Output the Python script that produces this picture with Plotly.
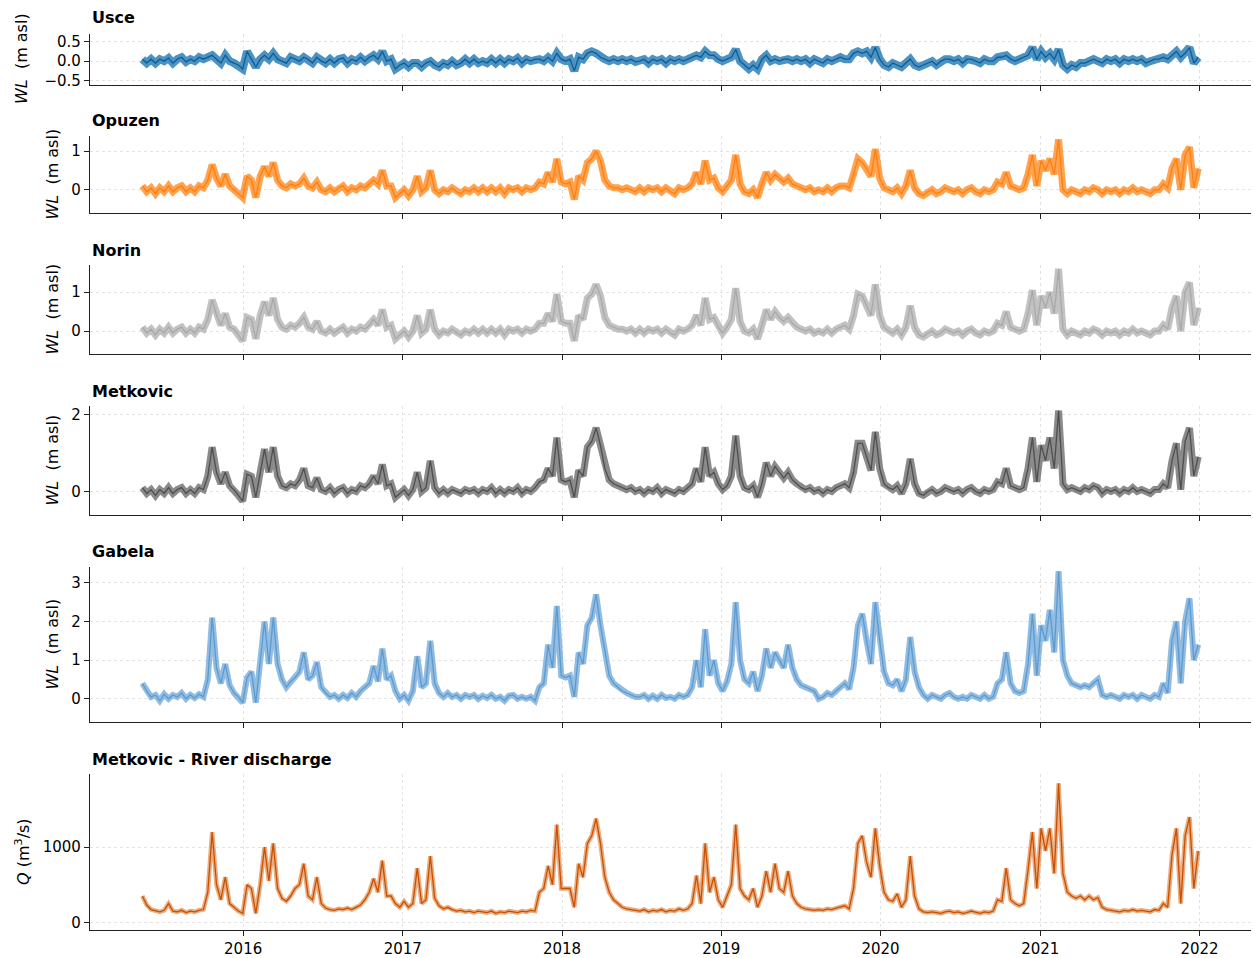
import pandas as pd
import plotly.graph_objects as go

# ---------------- data (10-day samples) ----------------
START = "2015-05-15"
YEARS = [2016, 2017, 2018, 2019, 2020, 2021, 2022]

usce = [
    0.05, -0.05, 0.05, -0.05, 0.05, 0.00, 0.08, -0.05, 0.05, 0.10,
    -0.02, 0.05, 0.00, 0.10, 0.05, 0.10, 0.15, 0.05, -0.05, 0.15,
    0.00, -0.05, -0.10, -0.20, 0.25, 0.05, -0.15, 0.05, 0.15, 0.05,
    0.20, 0.05, 0.00, -0.05, 0.10, 0.05, 0.00, 0.10, 0.05, -0.05,
    0.10, 0.00, -0.05, 0.05, -0.05, 0.05, 0.08, -0.05, 0.05, 0.00,
    0.10, 0.00, 0.10, 0.15, 0.05, 0.25, 0.00, 0.05, -0.20, -0.10,
    -0.05, -0.15, -0.05, -0.05, -0.15, -0.05, 0.00, -0.10, -0.15, -0.05,
    -0.10, 0.00, -0.10, -0.05, 0.05, -0.05, 0.05, -0.05, 0.00, -0.05,
    0.05, -0.05, 0.05, -0.05, 0.05, 0.00, 0.08, -0.05, 0.05, 0.00,
    0.05, 0.05, 0.00, 0.10, 0.00, 0.20, 0.05, 0.00, 0.05, -0.25,
    0.10, 0.05, 0.20, 0.25, 0.20, 0.10, 0.05, 0.00, 0.05, 0.00,
    0.05, 0.00, 0.05, -0.02, 0.00, 0.05, -0.05, 0.05, 0.00, 0.05,
    -0.05, 0.05, 0.00, 0.05, 0.00, 0.05, 0.10, 0.15, 0.10, 0.25,
    0.15, 0.15, 0.05, 0.00, 0.05, 0.10, 0.30, 0.00, -0.10, -0.20,
    -0.10, -0.20, 0.05, 0.15, 0.00, 0.05, 0.00, 0.05, 0.05, 0.00,
    0.05, 0.00, 0.05, -0.05, 0.05, 0.00, -0.05, 0.05, 0.00, 0.05,
    0.10, 0.05, 0.05, 0.20, 0.25, 0.20, 0.25, 0.10, 0.35, 0.05,
    -0.10, -0.15, -0.05, -0.10, -0.15, -0.05, 0.05, -0.10, -0.15, -0.10,
    -0.05, 0.00, -0.10, 0.00, 0.05, 0.05, 0.00, 0.05, -0.05, 0.05,
    0.05, 0.00, -0.05, 0.05, 0.00, 0.00, 0.10, 0.10, 0.15, 0.05,
    0.00, 0.05, 0.10, 0.15, 0.35, 0.05, 0.25, 0.10, 0.20, 0.05,
    0.30, -0.10, -0.20, -0.10, -0.15, -0.05, -0.05, 0.00, 0.05, 0.00,
    -0.05, 0.05, 0.00, 0.05, -0.05, 0.05, 0.00, 0.05, 0.00, 0.05,
    -0.05, 0.00, 0.05, 0.05, 0.10, 0.05, 0.15, 0.25, 0.10, 0.20,
    0.35, -0.05, 0.10,
]

opuzen = [
    0.10, -0.05, 0.05, -0.10, 0.05, -0.05, 0.10, -0.05, 0.05, 0.10,
    -0.05, 0.05, -0.05, 0.10, 0.05, 0.25, 0.65, 0.30, 0.10, 0.40,
    0.10, 0.00, -0.10, -0.20, 0.35, 0.25, -0.20, 0.35, 0.60, 0.35,
    0.70, 0.25, 0.10, 0.05, 0.15, 0.10, 0.15, 0.30, 0.10, 0.05,
    0.20, 0.00, -0.05, 0.05, -0.05, 0.05, 0.10, -0.05, 0.05, 0.00,
    0.10, 0.05, 0.15, 0.25, 0.15, 0.50, 0.10, 0.10, -0.20, -0.10,
    0.00, -0.15, 0.00, 0.35, -0.05, 0.05, 0.50, 0.00, -0.10, 0.00,
    -0.05, 0.05, -0.05, -0.10, 0.00, -0.05, 0.05, -0.05, 0.05, -0.05,
    0.05, -0.05, 0.05, -0.10, 0.05, 0.00, 0.05, -0.05, 0.05, 0.00,
    0.05, 0.20, 0.15, 0.45, 0.20, 0.80, 0.20, 0.15, 0.20, -0.25,
    0.35, 0.25, 0.70, 0.80, 1.00, 0.75, 0.25, 0.10, 0.05, 0.05,
    0.00, 0.05, 0.00, -0.05, 0.05, -0.05, 0.05, 0.00, 0.05, -0.05,
    0.05, -0.05, -0.10, 0.05, 0.00, 0.05, 0.15, 0.45, 0.15, 0.75,
    0.25, 0.30, 0.05, -0.05, 0.10, 0.25, 0.90, 0.15, -0.05, -0.10,
    0.00, -0.20, 0.15, 0.45, 0.25, 0.40, 0.30, 0.20, 0.30, 0.15,
    0.10, 0.05, 0.00, 0.05, -0.05, 0.00, -0.05, 0.05, -0.05, 0.05,
    0.10, 0.10, 0.05, 0.40, 0.80, 0.70, 0.55, 0.35, 1.05, 0.30,
    0.05, 0.00, -0.05, 0.05, -0.10, 0.10, 0.50, 0.05, -0.10, -0.15,
    -0.05, 0.00, -0.10, -0.05, 0.05, 0.00, -0.05, 0.00, -0.10, 0.00,
    0.05, -0.05, -0.10, 0.00, -0.05, 0.00, 0.20, 0.15, 0.45, 0.10,
    0.05, 0.00, 0.05, 0.40, 0.90, 0.10, 0.75, 0.50, 0.80, 0.40,
    1.30, 0.00, -0.10, 0.00, -0.05, -0.10, 0.00, -0.05, 0.05, 0.00,
    -0.10, 0.00, -0.05, 0.00, -0.10, 0.00, -0.05, 0.05, -0.05, 0.00,
    -0.05, -0.10, 0.00, 0.00, 0.15, 0.05, 0.55, 0.80, 0.00, 0.90,
    1.10, 0.05, 0.55,
]

norin = [
    0.10, -0.05, 0.05, -0.10, 0.05, -0.05, 0.10, -0.05, 0.05, 0.10,
    -0.05, 0.05, -0.05, 0.10, 0.05, 0.30, 0.80, 0.40, 0.15, 0.45,
    0.10, 0.05, -0.10, -0.25, 0.35, 0.30, -0.20, 0.40, 0.75, 0.40,
    0.85, 0.30, 0.10, 0.05, 0.15, 0.10, 0.20, 0.35, 0.10, 0.05,
    0.25, 0.00, -0.05, 0.05, -0.05, 0.05, 0.10, -0.05, 0.05, 0.00,
    0.10, 0.05, 0.15, 0.30, 0.15, 0.55, 0.10, 0.15, -0.20, -0.10,
    0.00, -0.15, 0.00, 0.40, -0.05, 0.05, 0.55, 0.05, -0.10, 0.00,
    -0.05, 0.05, -0.05, -0.10, 0.00, -0.05, 0.05, -0.05, 0.05, -0.05,
    0.05, -0.05, 0.05, -0.10, 0.05, 0.00, 0.05, -0.05, 0.05, 0.00,
    0.05, 0.20, 0.20, 0.45, 0.25, 0.95, 0.25, 0.20, 0.20, -0.25,
    0.40, 0.30, 0.85, 0.95, 1.20, 0.90, 0.35, 0.15, 0.10, 0.05,
    0.05, 0.00, 0.05, -0.05, 0.05, -0.05, 0.05, 0.00, 0.05, -0.05,
    0.05, -0.05, -0.10, 0.05, 0.00, 0.05, 0.15, 0.40, 0.15, 0.85,
    0.30, 0.35, 0.10, -0.05, 0.10, 0.30, 1.10, 0.25, 0.00, -0.05,
    0.05, -0.20, 0.15, 0.55, 0.30, 0.50, 0.35, 0.25, 0.35, 0.20,
    0.10, 0.05, 0.00, 0.05, -0.05, 0.00, -0.05, 0.05, -0.05, 0.05,
    0.10, 0.15, 0.05, 0.40, 0.95, 0.90, 0.65, 0.40, 1.20, 0.40,
    0.10, 0.00, -0.05, 0.05, -0.10, 0.10, 0.65, 0.10, -0.10, -0.15,
    -0.05, 0.00, -0.10, -0.05, 0.05, 0.00, -0.05, 0.00, -0.10, 0.00,
    0.05, -0.05, -0.10, 0.00, -0.05, 0.00, 0.20, 0.15, 0.50, 0.10,
    0.05, 0.00, 0.05, 0.45, 1.05, 0.15, 0.90, 0.60, 1.00, 0.45,
    1.60, 0.05, -0.10, 0.00, -0.05, -0.10, 0.00, -0.05, 0.05, 0.00,
    -0.10, 0.00, -0.05, 0.00, -0.10, 0.00, -0.05, 0.05, -0.05, 0.00,
    -0.05, -0.10, 0.00, 0.00, 0.15, 0.05, 0.60, 0.90, 0.00, 1.00,
    1.25, 0.15, 0.60,
]

metkovic = [
    0.10, -0.05, 0.05, -0.10, 0.05, -0.05, 0.10, -0.05, 0.05, 0.10,
    -0.05, 0.05, -0.05, 0.10, 0.05, 0.40, 1.15, 0.50, 0.20, 0.50,
    0.15, 0.05, -0.10, -0.25, 0.45, 0.40, -0.15, 0.50, 1.10, 0.50,
    1.15, 0.40, 0.15, 0.10, 0.20, 0.15, 0.30, 0.60, 0.15, 0.10,
    0.35, 0.05, 0.00, 0.10, -0.05, 0.05, 0.10, -0.05, 0.05, 0.00,
    0.15, 0.10, 0.20, 0.40, 0.20, 0.70, 0.15, 0.20, -0.15, -0.05,
    0.05, -0.10, 0.05, 0.50, 0.00, 0.10, 0.80, 0.10, -0.05, 0.05,
    -0.05, 0.05, 0.00, -0.05, 0.05, 0.00, 0.05, -0.05, 0.05, 0.00,
    0.10, -0.05, 0.05, -0.05, 0.05, 0.00, 0.10, -0.05, 0.05, 0.00,
    0.10, 0.25, 0.30, 0.60, 0.40, 1.40, 0.30, 0.25, 0.30, -0.15,
    0.55, 0.40, 1.15, 1.30, 1.65, 1.20, 0.60, 0.30, 0.20, 0.15,
    0.10, 0.05, 0.10, 0.00, 0.05, -0.05, 0.05, 0.00, 0.10, -0.05,
    0.05, 0.00, -0.05, 0.05, 0.00, 0.10, 0.20, 0.60, 0.25, 1.15,
    0.40, 0.50, 0.20, 0.05, 0.15, 0.40, 1.45, 0.40, 0.10, 0.05,
    0.15, -0.15, 0.20, 0.75, 0.40, 0.65, 0.50, 0.35, 0.50, 0.30,
    0.20, 0.10, 0.05, 0.10, 0.00, 0.05, -0.05, 0.05, 0.00, 0.10,
    0.15, 0.20, 0.10, 0.50, 1.25, 1.25, 0.90, 0.55, 1.55, 0.60,
    0.20, 0.10, 0.05, 0.15, -0.05, 0.20, 0.85, 0.20, -0.05, -0.10,
    0.00, 0.05, -0.05, 0.00, 0.10, 0.05, 0.00, 0.05, -0.05, 0.05,
    0.10, 0.00, -0.05, 0.05, 0.00, 0.05, 0.25, 0.20, 0.60, 0.15,
    0.10, 0.05, 0.10, 0.60, 1.40, 0.25, 1.20, 0.80, 1.40, 0.60,
    2.10, 0.20, 0.05, 0.10, 0.05, 0.00, 0.10, 0.05, 0.15, 0.10,
    -0.05, 0.05, 0.00, 0.05, -0.05, 0.05, 0.00, 0.10, 0.00, 0.05,
    0.00, -0.05, 0.05, 0.05, 0.20, 0.10, 0.80, 1.25, 0.05, 1.30,
    1.65, 0.40, 0.90,
]

gabela = [
    0.40, 0.20, 0.05, 0.10, -0.05, 0.12, 0.00, 0.10, 0.05, 0.15,
    0.00, 0.10, 0.02, 0.12, 0.05, 0.50, 2.10, 0.80, 0.40, 0.90,
    0.35, 0.15, 0.05, -0.10, 0.55, 0.70, -0.10, 0.90, 2.00, 0.90,
    2.10, 0.90, 0.50, 0.30, 0.45, 0.55, 0.70, 1.20, 0.50, 0.60,
    0.95, 0.30, 0.15, 0.05, 0.10, 0.00, 0.10, 0.02, 0.15, 0.05,
    0.20, 0.30, 0.40, 0.85, 0.45, 1.30, 0.50, 0.60, 0.20, 0.00,
    0.10, -0.05, 0.20, 1.10, 0.30, 0.40, 1.50, 0.40, 0.15, 0.05,
    0.15, 0.05, 0.10, 0.00, 0.10, 0.05, 0.10, 0.00, 0.08, 0.02,
    0.10, 0.00, 0.05, -0.05, 0.08, 0.10, 0.00, 0.05, 0.00, 0.05,
    -0.05, 0.30, 0.40, 1.40, 0.80, 2.40, 0.60, 0.55, 0.60, 0.05,
    1.20, 0.90, 1.90, 2.10, 2.70, 1.90, 1.20, 0.60, 0.40, 0.30,
    0.20, 0.15, 0.10, 0.05, 0.05, 0.10, 0.00, 0.08, 0.00, 0.10,
    0.02, 0.05, 0.00, 0.10, 0.05, 0.10, 0.30, 1.00, 0.30, 1.80,
    0.60, 1.00, 0.40, 0.20, 0.45, 0.90, 2.50, 1.00, 0.50, 0.40,
    0.70, 0.20, 0.60, 1.30, 0.80, 1.20, 1.00, 0.80, 1.40, 0.80,
    0.50, 0.35, 0.30, 0.25, 0.20, 0.00, 0.05, 0.15, 0.10, 0.20,
    0.30, 0.40, 0.25, 0.80, 1.90, 2.20, 1.50, 0.90, 2.50, 1.50,
    0.70, 0.40, 0.35, 0.50, 0.20, 0.50, 1.60, 0.70, 0.30, 0.10,
    0.00, 0.10, 0.05, 0.00, 0.10, 0.15, 0.05, 0.00, 0.05, 0.00,
    0.10, 0.05, 0.00, 0.10, 0.00, 0.05, 0.40, 0.50, 1.20, 0.40,
    0.20, 0.15, 0.20, 0.90, 2.20, 0.60, 1.90, 1.50, 2.30, 1.20,
    3.30, 1.00, 0.60, 0.40, 0.35, 0.30, 0.35, 0.30, 0.40, 0.50,
    0.10, 0.05, 0.10, 0.05, 0.00, 0.10, 0.05, 0.10, 0.00, 0.10,
    0.05, 0.00, 0.10, 0.05, 0.40, 0.15, 1.50, 2.00, 0.40, 2.00,
    2.60, 1.00, 1.40,
]

discharge = [
    350, 230, 170, 150, 140, 160, 250, 150, 140, 160,
    130, 150, 140, 160, 170, 400, 1200, 500, 300, 600,
    250, 200, 150, 120, 500, 450, 120, 500, 1000, 550,
    1050, 450, 320, 280, 350, 450, 500, 780, 350, 300,
    600, 250, 190, 170, 160, 180, 170, 190, 170, 200,
    230, 300, 400, 580, 400, 820, 350, 350, 250, 200,
    280, 200, 250, 720, 250, 300, 880, 320, 220, 180,
    200, 170, 150, 160, 140, 150, 130, 150, 140, 130,
    150, 120, 140, 130, 150, 140, 130, 150, 140, 160,
    150, 400, 450, 750, 500, 1300, 450, 450, 450, 200,
    780, 600, 1050, 1150, 1380, 1050, 600, 400, 300, 250,
    200, 180, 170, 160, 150, 170, 140, 160, 150, 170,
    140, 160, 150, 180, 160, 180, 250, 620, 250, 1050,
    400, 600, 300, 200, 350, 500, 1300, 450, 350, 300,
    450, 200, 350, 680, 400, 780, 450, 400, 680, 350,
    250, 200, 180, 170, 160, 170, 160, 180, 170, 190,
    200, 220, 180, 450, 1050, 1150, 800, 600, 1250, 750,
    400, 300, 280, 380, 200, 300, 880, 350, 180, 140,
    130, 140, 130, 120, 140, 150, 130, 140, 120, 130,
    150, 130, 120, 140, 130, 150, 300, 280, 720, 300,
    250, 220, 250, 700, 1200, 450, 1250, 950, 1250, 650,
    1850, 650, 400, 350, 320, 350, 300, 350, 300, 330,
    200, 170, 160, 150, 140, 160, 150, 170, 150, 160,
    150, 140, 170, 160, 250, 200, 900, 1250, 250, 1150,
    1400, 450, 950,
]

titles = ["Usce", "Opuzen", "Norin", "Metkovic", "Gabela", "Metkovic - River discharge"]

# ---------------- figure ----------------
W, H = 1253, 958
FONT = "DejaVu Sans, Verdana, sans-serif"
XL, XR = 90, 1251

panels = [
    dict(d=usce, band="rgba(31,119,180,0.80)", line="#0d5d94", bw=8.0,
         yr=[-0.60, 0.71], tv=[-0.5, 0, 0.5], fmt=".1f", top=33.5, bot=84.5, tt=18, labx=22,
         ylab="<i>WL</i>  (m asl)"),
    dict(d=opuzen, band="rgba(255,127,14,0.72)", line="#ff7f0e", bw=7.0,
         yr=[-0.60, 1.39], tv=[0, 1], fmt="d", top=136, bot=213, tt=121, labx=52,
         ylab="<i>WL</i>  (m asl)"),
    dict(d=norin, band="rgba(170,170,170,0.72)", line="#a9a9a9", bw=7.0,
         yr=[-0.59, 1.70], tv=[0, 1], fmt="d", top=265, bot=354, tt=250, labx=52,
         ylab="<i>WL</i>  (m asl)"),
    dict(d=metkovic, band="rgba(100,100,100,0.75)", line="#4f4f4f", bw=7.0,
         yr=[-0.61, 2.22], tv=[0, 2], fmt="d", top=406, bot=515, tt=391, labx=52,
         ylab="<i>WL</i>  (m asl)"),
    dict(d=gabela, band="rgba(105,162,215,0.72)", line="#5b9bd0", bw=6.0,
         yr=[-0.60, 3.41], tv=[0, 1, 2, 3], fmt="d", top=567, bot=722, tt=551, labx=52,
         ylab="<i>WL</i>  (m asl)"),
    dict(d=discharge, band="rgba(215,105,25,0.55)", line="#c95000", bw=4.5,
         yr=[-102, 1973], tv=[0, 1000], fmt="d", top=774, bot=930, tt=759, labx=22,
         ylab="<i>Q</i> (m<sup>3</sup>/s)"),
]

fig = go.Figure()
annotations = []
layout = {}
year_vals = [f"{y}-01-01" for y in YEARS]
year_txt = [str(y) for y in YEARS]

for k, p in enumerate(panels, start=1):
    dates = pd.date_range(START, periods=len(p["d"]), freq="10D")
    xa = "x" if k == 1 else f"x{k}"
    ya = "y" if k == 1 else f"y{k}"
    fig.add_trace(go.Scatter(x=dates, y=p["d"], mode="lines", xaxis=xa, yaxis=ya,
                             line=dict(color=p["band"], width=p["bw"]),
                             hoverinfo="skip", showlegend=False))
    fig.add_trace(go.Scatter(x=dates, y=p["d"], mode="lines", xaxis=xa, yaxis=ya,
                             line=dict(color=p["line"], width=1.3),
                             name=titles[k - 1], showlegend=False))
    xkey = "xaxis" if k == 1 else f"xaxis{k}"
    ykey = "yaxis" if k == 1 else f"yaxis{k}"
    layout[xkey] = dict(
        domain=[XL / W, XR / W], anchor=ya, automargin=False,
        range=["2015-01-15", "2022-04-29"],
        tickvals=year_vals, ticktext=year_txt,
        showticklabels=(k == 6),
        showline=True, linecolor="#222222", linewidth=1.2,
        ticks="outside", ticklen=5, tickwidth=1.2, tickcolor="#222222",
        showgrid=True, gridcolor="#e3e3e3", griddash="dot", gridwidth=0.8,
        zeroline=False, tickfont=dict(size=15, color="black", family=FONT),
    )
    if k > 1:
        layout[xkey]["matches"] = "x"
    layout[ykey] = dict(
        domain=[1 - p["bot"] / H, 1 - p["top"] / H], anchor=xa, automargin=False,
        range=p["yr"], tickvals=p["tv"], tickformat=p["fmt"],
        showline=True, linecolor="#222222", linewidth=1.2,
        ticks="outside", ticklen=5, tickwidth=1.2, tickcolor="#222222",
        showgrid=True, gridcolor="#e3e3e3", griddash="dot", gridwidth=0.8,
        zeroline=False, tickfont=dict(size=15, color="black", family=FONT),
    )
    annotations.append(dict(
        text=f"<b>{titles[k - 1]}</b>", xref="paper", yref="paper",
        x=XL / W, y=1 - p["tt"] / H, xanchor="left", yanchor="middle",
        showarrow=False, font=dict(size=16, color="black", family=FONT)))
    annotations.append(dict(
        text=p["ylab"], xref="paper", yref="paper", textangle=-90,
        x=p["labx"] / W, y=1 - (p["top"] + p["bot"]) / 2 / H,
        xanchor="center", yanchor="middle", showarrow=False,
        font=dict(size=16, color="black", family=FONT)))

fig.update_layout(
    width=W, height=H,
    margin=dict(l=0, r=0, t=0, b=0),
    paper_bgcolor="white", plot_bgcolor="white",
    font=dict(family=FONT, color="black"),
    annotations=annotations,
    **layout,
)

fig.write_html(
    "out.html",
    config={"displayModeBar": False},
    post_script="document.body.style.margin='0';document.body.style.overflow='hidden';",
)
